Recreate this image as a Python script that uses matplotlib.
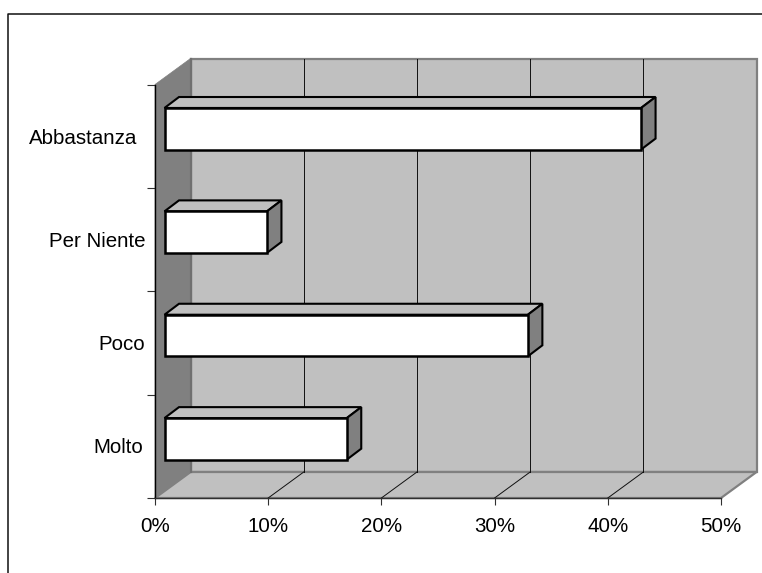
#!/usr/bin/env python
"""Horizontal 3D-look bar chart (Excel style), depth faked with polygons."""
import matplotlib
matplotlib.use("Agg")
import matplotlib.pyplot as plt
from matplotlib.patches import Polygon
from matplotlib.lines import Line2D
from matplotlib.transforms import ScaledTranslation

plt.rcParams["font.family"] = ["Liberation Sans", "DejaVu Sans"]

categories = ["Molto", "Poco", "Per Niente", "Abbastanza"]
values = [16.1, 32.1, 9.05, 42.1]
x_ticks = [0, 10, 20, 30, 40, 50]
x_labels = ["0%", "10%", "20%", "30%", "40%", "50%"]

W, H = 762, 573
GREY = "#c0c0c0"
DARK = "#808080"
FS = 14.8

fig = plt.figure(figsize=(W / 100, H / 100), dpi=100)
# front plane of the chart box, in pixels
L, R, T, B = 155, 721, 84.5, 498
ax = fig.add_axes([L / W, 1 - B / H, (R - L) / W, (B - T) / H])
ax.set_xlim(0, 50)
ax.set_ylim(0, len(categories))
ax.patch.set_visible(False)

# depth of the box and of the bars, in data units
DX, DY = 3.14, 0.2515
BAR_X, BAR_Y = 0.84, 0.072
BAR_DX, BAR_DY = 1.28, 0.106
BAR_H = 0.402
ymax = len(categories)


def poly(pts, fc, ec="none", lw=0, z=1):
    ax.add_patch(Polygon(pts, closed=True, facecolor=fc, edgecolor=ec,
                         linewidth=lw, zorder=z, clip_on=False,
                         joinstyle="miter"))


# walls
poly([(DX, DY), (50 + DX, DY), (50 + DX, ymax + DY), (DX, ymax + DY)], GREY, DARK, 1.6)
poly([(0, 0), (DX, DY), (DX, ymax + DY), (0, ymax)], DARK, DARK, 0.5)
poly([(0, 0), (50, 0), (50 + DX, DY), (DX, DY)], GREY, DARK, 1.6)
ax.plot([DX, DX], [DY, ymax + DY], color="#707070", lw=1.6, zorder=2, clip_on=False)

# gridlines on the back wall and floor
for t in x_ticks[1:-1]:
    ax.plot([t + DX, t + DX], [DY, ymax + DY], color="#101010", lw=0.7, zorder=2, clip_on=False)
    ax.plot([t, t + DX], [0, DY], color="#101010", lw=0.7, zorder=2, clip_on=False)

# bars
for i, v in enumerate(values):
    x0, x1 = BAR_X, BAR_X + v
    y0 = i + 0.5 + BAR_Y - BAR_H / 2
    y1 = y0 + BAR_H
    poly([(x0, y1), (x1, y1), (x1 + BAR_DX, y1 + BAR_DY), (x0 + BAR_DX, y1 + BAR_DY)],
         GREY, "black", 1.5, 3)
    poly([(x1, y0), (x1 + BAR_DX, y0 + BAR_DY), (x1 + BAR_DX, y1 + BAR_DY), (x1, y1)],
         DARK, "black", 1.5, 3)
    ax.barh(i + 0.5 + BAR_Y, v, height=BAR_H, left=BAR_X, color="white",
            edgecolor="black", linewidth=1.8, zorder=4)

# axes
for s in ("top", "right"):
    ax.spines[s].set_visible(False)
ax.spines["left"].set_color("black")
ax.spines["bottom"].set_color("#303030")
ax.spines["left"].set_linewidth(1.0)
ax.spines["bottom"].set_linewidth(1.0)
ax.spines["left"].set_zorder(5)
ax.spines["bottom"].set_zorder(5)

ax.set_xticks(x_ticks)
ax.set_xticklabels(x_labels, fontsize=FS)
ax.tick_params(axis="x", length=5, width=0.8, pad=9, color="#303030")
ax.set_yticks(range(len(categories) + 1))
ax.set_yticks([i + 0.5 for i in range(len(categories))], minor=True)
ax.set_yticklabels(categories, minor=True, fontsize=FS)
ax.set_yticklabels([""] * (len(categories) + 1))
ax.tick_params(axis="y", which="major", length=5.8, width=0.8, color="#303030")
ax.tick_params(axis="y", which="minor", length=0, pad=7)

# labels are not flush in the original: nudge them a little, in points
nudge = {"Abbastanza": (-5.5, -0.5), "Molto": (-1.5, 0.3), "Poco": (0, 0.3), "Per Niente": (0, 0)}
for lab in ax.get_yticklabels(minor=True):
    dx, dy = nudge[lab.get_text()]
    lab.set_transform(lab.get_transform() + ScaledTranslation(dx / 72, dy / 72, fig.dpi_scale_trans))

# outer chart frame
fig.add_artist(Line2D([7.5 / W, 7.5 / W, 1], [0, 1 - 14 / H, 1 - 14 / H],
                      color="#101010", lw=1.1, transform=fig.transFigure))

fig.savefig("out.png", dpi=100)
